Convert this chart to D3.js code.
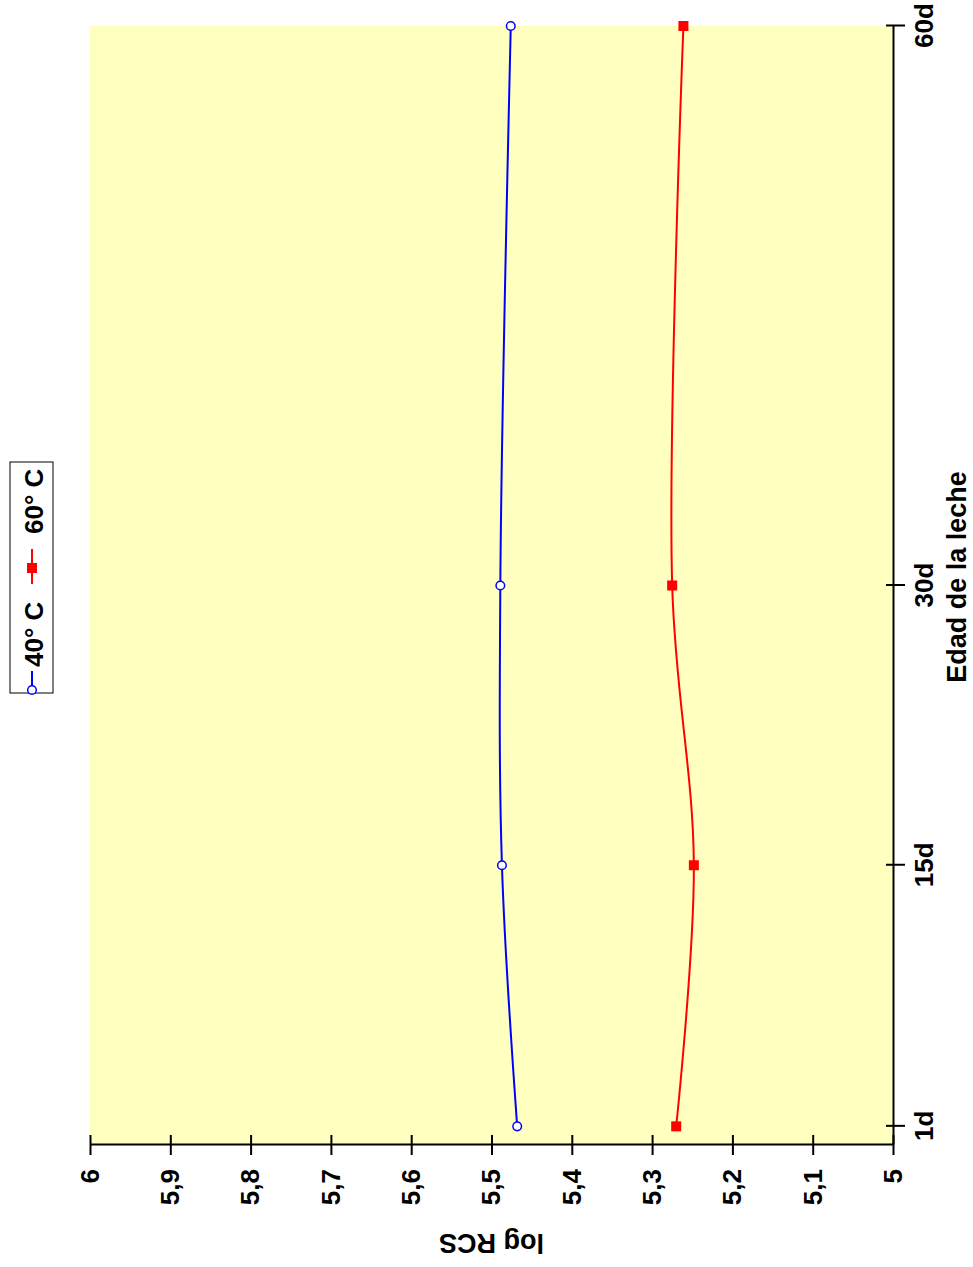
<!DOCTYPE html>
<html>
<head>
<meta charset="utf-8">
<script src="https://cdn.jsdelivr.net/npm/d3@7"></script>
<style>
  body { margin: 0; background: #ffffff; }
  svg { display: block; }
  text { font-family: "Liberation Sans", Arial, sans-serif; font-weight: bold; fill: #000; }
</style>
</head>
<body>
<svg id="chart" width="973" height="1267"></svg>
<script>
// Milk age (days) and log somatic cell counts per storage temperature
const days = [1, 15, 30, 60];
const dayLabels = ["1d", "15d", "30d", "60d"];
const rcs40 = [5.468, 5.487, 5.489, 5.476];
const rcs60 = [5.270, 5.248, 5.275, 5.261];
const seriesNames = ["40° C", "60° C"];
const valueTicks = [5, 5.1, 5.2, 5.3, 5.4, 5.5, 5.6, 5.7, 5.8, 5.9, 6];

const W = 1267, H = 973;           // landscape drawing frame
const svg = d3.select("#chart");

// The chart is laid out landscape and turned a quarter turn counter-clockwise
const g = svg.append("g").attr("transform", `translate(0,${W}) rotate(-90)`);

const x = d3.scaleLinear().domain([0, 60]).range([122, 1241]);
const y = d3.scaleLinear().domain([5, 6]).range([893, 90]);

// plot background
g.append("rect")
  .attr("x", x(0)).attr("y", y(6))
  .attr("width", x(60) - x(0)).attr("height", y(5) - y(6))
  .attr("fill", "#ffffc0");

const fmt = d => String(d).replace(".", ",");

// value axis (ticks cross the axis line)
const yAxis = g.append("g")
  .attr("transform", `translate(${x(0)},0)`)
  .call(d3.axisLeft(y).tickValues(valueTicks).tickFormat(fmt)
        .tickSizeInner(10).tickSizeOuter(0).tickPadding(14));
yAxis.selectAll(".tick line").attr("x1", 10);
yAxis.selectAll("path, line").attr("stroke", "#000").attr("stroke-width", 2);
yAxis.selectAll("text").attr("font-size", 26).attr("font-family", null);

// day axis
const xAxis = g.append("g")
  .attr("transform", `translate(0,${y(5)})`)
  .call(d3.axisBottom(x).tickValues(days).tickFormat((d, i) => dayLabels[i])
        .tickSizeInner(12).tickSizeOuter(0).tickPadding(10));
xAxis.selectAll(".tick line").attr("y1", -7);
xAxis.selectAll("path, line").attr("stroke", "#000").attr("stroke-width", 2);
xAxis.selectAll("text").attr("font-size", 26).attr("font-family", null);

// axis titles
g.append("text")
  .attr("transform", `translate(33,${(y(5) + y(6)) / 2}) rotate(-90)`)
  .attr("text-anchor", "middle").attr("font-size", 27)
  .text("log RCS");
g.append("text")
  .attr("x", 690).attr("y", 966)
  .attr("text-anchor", "middle").attr("font-size", 27)
  .text("Edad de la leche");

// series
const line = d3.line().x(d => x(d[0])).y(d => y(d[1])).curve(d3.curveCatmullRom.alpha(0.5));
const s40 = days.map((d, i) => [d, rcs40[i]]);
const s60 = days.map((d, i) => [d, rcs60[i]]);

g.append("path").attr("d", line(s40))
  .attr("fill", "none").attr("stroke", "#0000ff").attr("stroke-width", 2);
g.append("path").attr("d", line(s60))
  .attr("fill", "none").attr("stroke", "#ff0000").attr("stroke-width", 2);

g.selectAll(".m40").data(s40).join("circle")
  .attr("cx", d => x(d[0])).attr("cy", d => y(d[1])).attr("r", 4.3)
  .attr("fill", "#ffffff").attr("stroke", "#0000ff").attr("stroke-width", 1.5);
g.selectAll(".m60").data(s60).join("rect")
  .attr("x", d => x(d[0]) - 5).attr("y", d => y(d[1]) - 5)
  .attr("width", 10).attr("height", 10)
  .attr("fill", "#ff0000");

// legend
const lg = g.append("g");
lg.append("rect").attr("x", 574).attr("y", 10).attr("width", 231).attr("height", 43)
  .attr("fill", "#ffffff").attr("stroke", "#000").attr("stroke-width", 1);
lg.append("line").attr("x1", 576).attr("x2", 596).attr("y1", 32).attr("y2", 32)
  .attr("stroke", "#0000ff").attr("stroke-width", 2);
lg.append("circle").attr("cx", 577).attr("cy", 32).attr("r", 4.3)
  .attr("fill", "#ffffff").attr("stroke", "#0000ff").attr("stroke-width", 1.5);
lg.append("text").attr("x", 600).attr("y", 43).attr("font-size", 26).text(seriesNames[0]);
lg.append("line").attr("x1", 683).attr("x2", 718).attr("y1", 32).attr("y2", 32)
  .attr("stroke", "#ff0000").attr("stroke-width", 2);
lg.append("rect").attr("x", 694).attr("y", 27).attr("width", 10).attr("height", 10)
  .attr("fill", "#ff0000");
lg.append("text").attr("x", 733).attr("y", 43).attr("font-size", 26).text(seriesNames[1]);
</script>
</body>
</html>
